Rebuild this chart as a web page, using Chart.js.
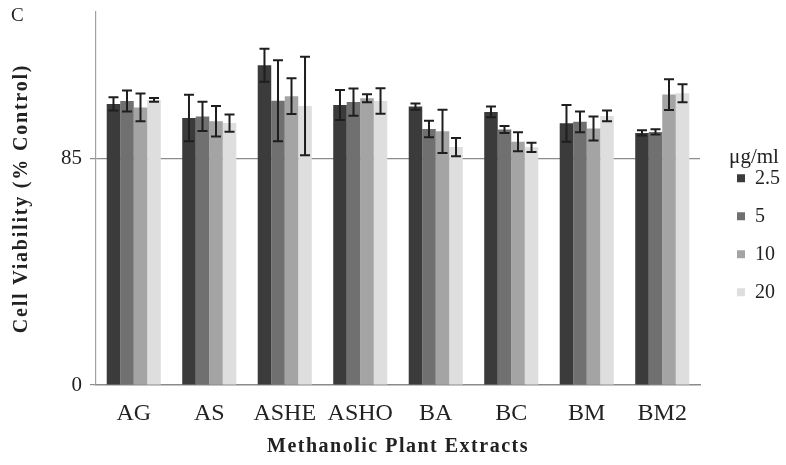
<!DOCTYPE html>
<html>
<head>
<meta charset="utf-8">
<script src="https://cdn.jsdelivr.net/npm/chart.js@4.4.1/dist/chart.umd.min.js"></script>
<style>
  html, body { margin: 0; padding: 0; background: #fff; }
  #wrap { position: relative; width: 786px; height: 465px; }
  #lblC { position: absolute; left: 11px; top: 4px; font: 19px "Liberation Serif", serif; color: #222; }
</style>
</head>
<body>
<div id="wrap">
  <canvas id="c" width="786" height="465"></canvas>
  <div id="lblC">C</div>
</div>
<script>
const categories = ['AG', 'AS', 'ASHE', 'ASHO', 'BA', 'BC', 'BM', 'BM2'];
const seriesNames = ['2.5', '5', '10', '20'];
const yTickValues = [0, 85];

const conc2_5 = [105.5, 100.2, 120.0, 105.1, 104.5, 102.5, 98.2, 94.6];
const err2_5  = [2.5, 8.7, 6.2, 5.6, 1.2, 2.0, 6.9, 1.0];
const conc5   = [106.6, 100.8, 106.7, 106.2, 96.1, 95.9, 98.8, 95.0];
const err5    = [3.9, 5.5, 15.2, 5.1, 3.1, 1.3, 3.9, 1.0];
const conc10  = [104.2, 99.0, 108.4, 107.6, 95.2, 91.3, 96.3, 109.0];
const err10   = [5.2, 5.7, 6.7, 1.5, 8.1, 3.6, 4.5, 5.8];
const conc20  = [107.0, 98.3, 104.7, 106.6, 89.3, 89.2, 101.0, 109.5];
const err20   = [0.7, 3.2, 18.5, 4.8, 3.4, 1.7, 2.0, 3.4];

const seriesValues = [conc2_5, conc5, conc10, conc20];
const seriesErrors = [err2_5, err5, err10, err20];
const seriesColors = ['#3b3b3b', '#707070', '#a4a4a4', '#dedede'];

const FONT = '"Liberation Serif", "Times New Roman", serif';

const errorBarPlugin = {
  id: 'errorBars',
  afterDatasetsDraw(chart) {
    const ctx = chart.ctx;
    const yScale = chart.scales.y;
    ctx.save();
    ctx.strokeStyle = '#1e1e1e';
    ctx.lineWidth = 2;
    chart.data.datasets.forEach((ds, di) => {
      const meta = chart.getDatasetMeta(di);
      meta.data.forEach((bar, i) => {
        const v = ds.data[i];
        const e = ds.errors[i];
        const yTop = yScale.getPixelForValue(v + e);
        const yBot = yScale.getPixelForValue(v - e);
        const x = bar.x;
        const cap = 5;
        ctx.beginPath();
        ctx.moveTo(x, yTop); ctx.lineTo(x, yBot);
        ctx.moveTo(x - cap, yTop); ctx.lineTo(x + cap, yTop);
        ctx.moveTo(x - cap, yBot); ctx.lineTo(x + cap, yBot);
        ctx.stroke();
      });
    });
    ctx.restore();
  }
};

const TITLE_SPACING = { x: '1.5px', y: '1.8px' };

const layoutTweakPlugin = {
  id: 'layoutTweak',
  afterLayout(chart) {
    const lg = chart.legend;
    if (lg) {
      lg.left = 719;
      lg.width = 70;
      lg.right = lg.left + lg.width;
      const shift = -5;
      lg.top += shift;
      lg.bottom += shift;
    }
    ['x', 'y'].forEach(id => {
      const s = chart.scales[id];
      if (s && !s._spaced) {
        const orig = s.drawTitle;
        s.drawTitle = function (...args) {
          const ctx = this.ctx;
          ctx.save();
          ctx.letterSpacing = TITLE_SPACING[id];
          orig.apply(this, args);
          ctx.restore();
        };
        s._spaced = true;
      }
    });
  }
};

new Chart(document.getElementById('c'), {
  type: 'bar',
  data: {
    labels: categories,
    datasets: seriesNames.map((n, k) => ({
      label: n,
      data: seriesValues[k],
      errors: seriesErrors[k],
      backgroundColor: seriesColors[k],
      borderWidth: 0,
      categoryPercentage: 0.716,
      barPercentage: 1.0
    }))
  },
  options: {
    responsive: false,
    animation: false,
    devicePixelRatio: 1,
    layout: { padding: { top: 12, left: 0, right: 15, bottom: 0 } },
    plugins: {
      tooltip: { enabled: false },
      legend: {
        position: 'right',
        align: 'center',
        title: {
          display: true,
          text: 'μg/ml',
          color: '#222',
          font: { family: FONT, size: 21 },
          padding: { top: 0, bottom: -21.7 }
        },
        labels: {
          boxWidth: 8,
          boxHeight: 8,
          padding: 18,
          color: '#222',
          font: { family: FONT, size: 20 }
        }
      }
    },
    scales: {
      x: {
        grid: { display: false, drawTicks: false },
        border: { display: true, color: '#8a8a8a', width: 1.5 },
        ticks: { color: '#222', font: { family: FONT, size: 24 }, padding: 14 },
        title: {
          display: true,
          text: 'Methanolic Plant Extracts',
          color: '#222',
          font: { family: FONT, size: 20, weight: 'bold' },
          padding: { top: 4, bottom: 6 }
        },
        afterFit(s) { s.height = 80; }
      },
      y: {
        min: 0,
        max: 140,
        afterBuildTicks(s) { s.ticks = yTickValues.map(v => ({ value: v })); },
        grid: {
          display: true,
          drawTicks: true,
          tickLength: 6,
          color: (c) => (c.tick && c.tick.value === 85) ? '#8c8c8c' : 'rgba(0,0,0,0)',
          tickColor: '#8c8c8c',
          borderDash: [4, 2],
          lineWidth: 1.2
        },
        border: { display: true, color: '#a0a0a0', width: 1.2 },
        ticks: { color: '#222', font: { family: FONT, size: 21 }, padding: 8 },
        title: {
          display: true,
          text: 'Cell Viability (% Control)',
          color: '#222',
          font: { family: FONT, size: 20, weight: 'bold' },
          padding: { top: 10, bottom: 0 }
        },
        afterFit(s) { s.width = 96; s.paddingTop = 0; s.paddingBottom = 0; }
      }
    }
  },
  plugins: [errorBarPlugin, layoutTweakPlugin]
});
</script>
</body>
</html>
